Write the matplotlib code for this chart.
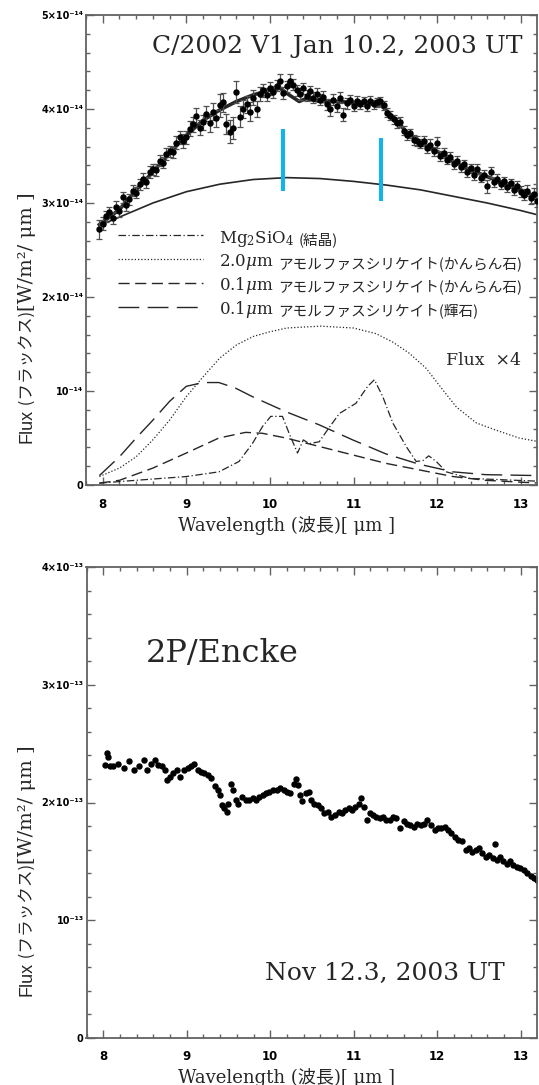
import matplotlib
matplotlib.use("Agg")
import matplotlib.pyplot as plt
from matplotlib.ticker import MultipleLocator

plt.rcParams["mathtext.fontset"] = "custom"
plt.rcParams["mathtext.rm"] = "DejaVu Serif"
plt.rcParams["mathtext.it"] = "DejaVu Serif:italic"

# ---------------------------------------------------------------- data --- #
# C/2002 V1, Jan 10.2 2003 UT (flux in units of 1e-14 W/m^2/um)
TOP_WL = [7.96, 8.00, 8.04, 8.08, 8.12, 8.16, 8.20, 8.24, 8.28, 8.32,
          8.36, 8.40, 8.44, 8.48, 8.52, 8.56, 8.60, 8.64, 8.68, 8.72,
          8.76, 8.80, 8.84, 8.88, 8.92, 8.96, 9.00, 9.04, 9.08, 9.12,
          9.16, 9.20, 9.24, 9.28, 9.32, 9.36, 9.40, 9.44, 9.48, 9.52,
          9.56, 9.60, 9.64, 9.68, 9.72, 9.76, 9.80, 9.84, 9.88, 9.92,
          9.96, 10.00, 10.04, 10.08, 10.12, 10.16, 10.20, 10.24, 10.28, 10.32,
          10.36, 10.40, 10.44, 10.48, 10.52, 10.56, 10.60, 10.64, 10.68, 10.72,
          10.76, 10.80, 10.84, 10.88, 10.92, 10.96, 11.00, 11.04, 11.08, 11.12,
          11.16, 11.20, 11.24, 11.28, 11.32, 11.36, 11.40, 11.44, 11.48, 11.52,
          11.56, 11.60, 11.64, 11.68, 11.72, 11.76, 11.80, 11.84, 11.88, 11.92,
          11.96, 12.00, 12.04, 12.08, 12.12, 12.16, 12.20, 12.24, 12.28, 12.32,
          12.36, 12.40, 12.44, 12.48, 12.52, 12.56, 12.60, 12.64, 12.68, 12.72,
          12.76, 12.80, 12.84, 12.88, 12.92, 12.96, 13.00, 13.04, 13.08, 13.12,
          13.16, 13.20]
TOP_FLUX = [2.72, 2.78, 2.86, 2.90, 2.84, 2.96, 2.91, 3.06, 2.98, 3.04,
            3.13, 3.11, 3.20, 3.26, 3.22, 3.33, 3.36, 3.35, 3.45, 3.43,
            3.52, 3.55, 3.54, 3.64, 3.70, 3.66, 3.70, 3.79, 3.84, 3.93,
            3.80, 3.86, 3.95, 3.85, 3.97, 3.90, 4.04, 4.07, 3.84, 3.76,
            3.80, 4.18, 3.92, 4.00, 4.05, 3.97, 4.12, 4.00, 4.16, 4.20,
            4.15, 4.22, 4.18, 4.25, 4.30, 4.17, 4.24, 4.30, 4.26, 4.20,
            4.16, 4.22, 4.14, 4.19, 4.12, 4.16, 4.10, 4.13, 4.05, 4.00,
            4.10, 4.03, 4.12, 3.94, 4.06, 4.10, 4.03, 4.09, 4.05, 4.08,
            4.03, 4.09, 4.05, 4.07, 4.08, 4.04, 3.96, 3.93, 3.89, 3.85,
            3.86, 3.77, 3.72, 3.74, 3.67, 3.66, 3.63, 3.66, 3.58, 3.62,
            3.55, 3.64, 3.50, 3.53, 3.46, 3.49, 3.41, 3.45, 3.38, 3.41,
            3.33, 3.37, 3.30, 3.36, 3.27, 3.30, 3.18, 3.33, 3.22, 3.26,
            3.20, 3.23, 3.17, 3.21, 3.14, 3.18, 3.12, 3.09, 3.13, 3.05,
            3.10, 3.02]
TOP_ERR = [0.10, 0.07, 0.06, 0.06, 0.06, 0.06, 0.06, 0.06, 0.06, 0.06,
           0.06, 0.06, 0.06, 0.06, 0.06, 0.06, 0.06, 0.06, 0.06, 0.06,
           0.06, 0.06, 0.06, 0.07, 0.07, 0.07, 0.07, 0.08, 0.08, 0.08,
           0.08, 0.08, 0.08, 0.09, 0.09, 0.09, 0.12, 0.10, 0.11, 0.12,
           0.12, 0.12, 0.11, 0.10, 0.09, 0.10, 0.08, 0.08, 0.07, 0.07,
           0.07, 0.07, 0.06, 0.06, 0.07, 0.06, 0.06, 0.07, 0.06, 0.06,
           0.06, 0.06, 0.06, 0.06, 0.06, 0.06, 0.06, 0.06, 0.06, 0.07,
           0.06, 0.06, 0.06, 0.07, 0.06, 0.05, 0.05, 0.05, 0.05, 0.05,
           0.05, 0.05, 0.05, 0.05, 0.05, 0.05, 0.05, 0.05, 0.05, 0.05,
           0.05, 0.05, 0.05, 0.05, 0.05, 0.05, 0.05, 0.05, 0.05, 0.06,
           0.05, 0.06, 0.05, 0.05, 0.05, 0.05, 0.05, 0.05, 0.05, 0.05,
           0.05, 0.05, 0.05, 0.05, 0.05, 0.05, 0.07, 0.05, 0.05, 0.05,
           0.05, 0.05, 0.05, 0.05, 0.05, 0.05, 0.06, 0.06, 0.06, 0.06,
           0.06, 0.06]

# total model fit
MODEL_WL = [7.96, 8.2, 8.4, 8.6, 8.8, 9.0, 9.2, 9.4, 9.6, 9.8, 10.0, 10.12,
            10.23, 10.35, 10.43, 10.6, 10.8, 11.0, 11.2, 11.31, 11.39, 11.47,
            11.63, 11.8, 12.0, 12.2, 12.4, 12.6, 12.8, 13.0, 13.22]
MODEL_FLUX = [2.77, 2.93, 3.14, 3.33, 3.53, 3.72, 3.88, 3.99, 4.08, 4.15, 4.20,
              4.22, 4.15, 4.08, 4.11, 4.08, 4.08, 4.07, 4.06, 4.05, 3.99, 3.92,
              3.76, 3.65, 3.55, 3.44, 3.35, 3.28, 3.21, 3.14, 3.05]

# thermal continuum
CONT_WL = [7.96, 8.2, 8.6, 9.0, 9.4, 9.8, 10.2, 10.6, 11.0, 11.4, 11.8,
           12.2, 12.6, 13.0, 13.22]
CONT_FLUX = [2.76, 2.85, 3.00, 3.12, 3.20, 3.25, 3.27, 3.26, 3.23, 3.19,
             3.14, 3.07, 3.00, 2.92, 2.87]

# crystalline olivine feature markers
BAND_WL = [10.16, 11.325]
BAND_LO = [3.13, 3.02]
BAND_HI = [3.79, 3.69]

# dust components (x4)
FO_WL = [7.96, 8.4, 9.0, 9.39, 9.63, 9.79, 9.91, 10.01, 10.15, 10.23, 10.33,
         10.40, 10.47, 10.59, 10.7, 10.83, 11.03, 11.17, 11.25, 11.35, 11.47,
         11.63, 11.75, 11.83, 11.90, 11.99, 12.11, 12.39, 13.22]
FO_FLUX = [0.02, 0.05, 0.09, 0.14, 0.25, 0.44, 0.62, 0.73, 0.73, 0.55, 0.34,
           0.48, 0.44, 0.46, 0.60, 0.76, 0.87, 1.05, 1.12, 0.94, 0.66, 0.41,
           0.25, 0.26, 0.31, 0.25, 0.14, 0.07, 0.04]
OL2_WL = [7.96, 8.2, 8.4, 8.6, 8.8, 9.0, 9.2, 9.4, 9.6, 9.8, 10.0, 10.2,
          10.6, 11.0, 11.27, 11.47, 11.67, 11.87, 12.07, 12.23, 12.47, 12.7,
          12.98, 13.22]
OL2_FLUX = [0.09, 0.18, 0.30, 0.48, 0.69, 0.94, 1.15, 1.35, 1.49, 1.58, 1.63,
            1.67, 1.69, 1.67, 1.61, 1.52, 1.40, 1.24, 1.01, 0.83, 0.66, 0.585,
            0.50, 0.46]
OL01_WL = [7.96, 8.2, 8.6, 9.0, 9.39, 9.71, 9.91, 10.19, 10.59, 10.99, 11.39,
           11.79, 12.19, 12.58, 13.22]
OL01_FLUX = [0.02, 0.05, 0.18, 0.34, 0.50, 0.56, 0.55, 0.50, 0.41, 0.32, 0.23,
             0.16, 0.09, 0.05, 0.02]
PX01_WL = [7.96, 8.2, 8.4, 8.6, 8.8, 9.0, 9.2, 9.39, 9.59, 9.79, 10.19, 10.59,
           10.99, 11.39, 11.79, 12.19, 12.58, 13.22]
PX01_FLUX = [0.10, 0.30, 0.50, 0.69, 0.89, 1.05, 1.09, 1.09, 1.03, 0.94, 0.78,
             0.64, 0.48, 0.33, 0.22, 0.14, 0.11, 0.10]

LEGEND_MAIN = [r"$\mathrm{Mg_2SiO_4}$", r"$\mathrm{2.0}\mathit{\mu}\mathrm{m}$",
               r"$\mathrm{0.1}\mathit{\mu}\mathrm{m}$",
               r"$\mathrm{0.1}\mathit{\mu}\mathrm{m}$"]
LEGEND_JP = ["(結晶)", "アモルファスシリケイト(かんらん石)",
             "アモルファスシリケイト(かんらん石)", "アモルファスシリケイト(輝石)"]

# 2P/Encke, Nov 12.3 2003 UT (flux in units of 1e-13 W/m^2/um)
ENCKE_WL = [8.02, 8.04, 8.06, 8.08, 8.12, 8.18, 8.25, 8.31, 8.37, 8.43,
            8.49, 8.53, 8.57, 8.62, 8.66, 8.70, 8.74, 8.76, 8.80, 8.84,
            8.88, 8.92, 8.97, 9.01, 9.05, 9.09, 9.13, 9.17, 9.21, 9.25,
            9.29, 9.34, 9.38, 9.40, 9.42, 9.45, 9.48, 9.50, 9.53, 9.56,
            9.59, 9.62, 9.66, 9.71, 9.75, 9.79, 9.83, 9.87, 9.91, 9.95,
            9.99, 10.03, 10.08, 10.12, 10.16, 10.20, 10.24, 10.28, 10.31, 10.33,
            10.36, 10.38, 10.43, 10.46, 10.49, 10.53, 10.57, 10.61, 10.65, 10.69,
            10.73, 10.77, 10.82, 10.86, 10.90, 10.94, 10.98, 11.02, 11.06, 11.09,
            11.12, 11.16, 11.19, 11.23, 11.27, 11.31, 11.35, 11.39, 11.43, 11.47,
            11.51, 11.56, 11.60, 11.64, 11.68, 11.72, 11.76, 11.80, 11.84, 11.88,
            11.93, 11.97, 12.01, 12.05, 12.09, 12.13, 12.17, 12.21, 12.25, 12.30,
            12.34, 12.38, 12.42, 12.46, 12.50, 12.54, 12.58, 12.62, 12.67, 12.69,
            12.71, 12.75, 12.79, 12.83, 12.87, 12.91, 12.95, 12.99, 13.04, 13.08,
            13.12, 13.16, 13.19]
ENCKE_FLUX = [2.32, 2.42, 2.39, 2.31, 2.31, 2.33, 2.29, 2.35, 2.28, 2.31,
              2.36, 2.28, 2.33, 2.36, 2.32, 2.31, 2.28, 2.19, 2.22, 2.25,
              2.28, 2.22, 2.28, 2.29, 2.31, 2.33, 2.28, 2.26, 2.25, 2.23,
              2.21, 2.14, 2.11, 2.06, 1.98, 1.95, 1.92, 1.99, 2.16, 2.11,
              2.02, 1.99, 2.05, 2.02, 2.02, 2.04, 2.02, 2.05, 2.06, 2.08,
              2.09, 2.11, 2.11, 2.12, 2.11, 2.09, 2.08, 2.16, 2.20, 2.15,
              2.06, 2.01, 2.08, 2.09, 2.02, 1.99, 1.98, 1.95, 1.91, 1.92,
              1.88, 1.89, 1.92, 1.91, 1.94, 1.95, 1.94, 1.96, 1.99, 2.04,
              1.96, 1.85, 1.91, 1.89, 1.88, 1.87, 1.88, 1.85, 1.85, 1.88,
              1.87, 1.78, 1.84, 1.82, 1.81, 1.79, 1.82, 1.81, 1.82, 1.85,
              1.81, 1.77, 1.78, 1.78, 1.79, 1.77, 1.74, 1.71, 1.68, 1.67,
              1.60, 1.61, 1.58, 1.60, 1.61, 1.57, 1.54, 1.55, 1.53, 1.65,
              1.51, 1.54, 1.50, 1.48, 1.50, 1.47, 1.45, 1.44, 1.43, 1.40,
              1.38, 1.36, 1.34]

WL_TICKS = [8, 9, 10, 11, 12, 13]
TOP_YTICKS = [0, 1, 2, 3, 4, 5]
TOP_YTICKLABELS = ["0", "10⁻¹⁴", "2×10⁻¹⁴", "3×10⁻¹⁴", "4×10⁻¹⁴", "5×10⁻¹⁴"]
BOT_YTICKS = [0, 1, 2, 3, 4]
BOT_YTICKLABELS = ["0", "10⁻¹³", "2×10⁻¹³", "3×10⁻¹³", "4×10⁻¹³"]

# --------------------------------------------------------------- style --- #
W, H = 539, 1085
INK = "#262626"
AXIS = "#626262"
BLUE = "#17b2ea"
SERIF_JP = ["DejaVu Serif", "Noto Sans CJK JP"]


def px_box(left, top, right, bottom):
    return [left / W, 1 - bottom / H, (right - left) / W, (bottom - top) / H]


def style_axes(ax, ylim, yticks, yticklabels):
    ax.set_xlim(7.8, 13.195)
    ax.set_ylim(*ylim)
    ax.set_xticks(WL_TICKS, [str(t) for t in WL_TICKS], fontsize=8.5,
                  fontweight="bold", family="DejaVu Sans")
    ax.set_yticks(yticks, yticklabels, fontsize=7, fontweight="bold",
                  family="DejaVu Sans")
    ax.xaxis.set_minor_locator(MultipleLocator(0.2))
    ax.yaxis.set_minor_locator(MultipleLocator(0.2))
    ax.tick_params(which="both", direction="in", top=True, right=True,
                   color=AXIS, width=1.0, labelcolor="black")
    ax.tick_params(which="major", length=6)
    ax.tick_params(which="minor", length=3)
    ax.tick_params(axis="x", pad=9)
    ax.tick_params(axis="y", pad=2)
    for s in ax.spines.values():
        s.set_color(AXIS)
        s.set_linewidth(1.3)


def flux_label(ax, x_px, bottom_px):
    t1 = fig.text(x_px / W, 1 - bottom_px / H, "Flux", rotation=90,
                  ha="center", va="bottom", family="Liberation Sans",
                  fontsize=13, color=INK)
    t2 = ax.annotate(" (フラックス)", xy=(0.5, 1), xycoords=t1, rotation=90,
                     ha="center", va="bottom", family="Noto Sans CJK JP",
                     fontsize=12, color=INK, annotation_clip=False)
    ax.annotate("[W/m²/ μm ]", xy=(0.5, 1), xycoords=t2, rotation=90,
                ha="center", va="bottom", family="DejaVu Serif",
                fontsize=14, color=INK, annotation_clip=False)


fig = plt.figure(figsize=(W / 100, H / 100), dpi=100)
ax1 = fig.add_axes(px_box(86, 15, 537, 485))
ax2 = fig.add_axes(px_box(86.5, 567, 537, 1038))

# ------------------------------------------------------------ top panel --- #
ax1.plot(MODEL_WL, MODEL_FLUX, color=INK, lw=2.6, zorder=2)
ax1.plot(CONT_WL, CONT_FLUX, color=INK, lw=1.2, zorder=2)
ax1.errorbar(TOP_WL, TOP_FLUX, yerr=TOP_ERR, fmt="o", ms=3.6, color="black",
             ecolor="#505050", elinewidth=0.9, capsize=2.2, capthick=0.9,
             zorder=3)
ax1.vlines(BAND_WL, BAND_LO, BAND_HI, colors=BLUE, lw=3, zorder=4)

l_fo, = ax1.plot(FO_WL, FO_FLUX, color=INK, lw=0.9, ls=(0, (6, 2, 1, 2)))
l_ol2, = ax1.plot(OL2_WL, OL2_FLUX, color=INK, lw=0.9, ls=(0, (1, 1.6)))
l_ol01, = ax1.plot(OL01_WL, OL01_FLUX, color=INK, lw=1.0, ls=(0, (8, 4)))
l_px01, = ax1.plot(PX01_WL, PX01_FLUX, color=INK, lw=1.0, ls=(0, (15, 6)))

leg = ax1.legend([l_fo, l_ol2, l_ol01, l_px01], LEGEND_MAIN, loc="upper left",
                 bbox_to_anchor=(0.072, 0.548), frameon=False, borderpad=0,
                 borderaxespad=0, handlelength=5.05, handleheight=1.4,
                 handletextpad=1.0, labelspacing=0.16, fontsize=12)
for t in leg.get_texts():
    t.set_color(INK)
for t, jp in zip(leg.get_texts(), LEGEND_JP):
    ax1.annotate(jp, xy=(1, 0.45), xycoords=t, xytext=(3, 0),
                 textcoords="offset points", ha="left", va="center",
                 family="Noto Sans CJK JP", fontsize=10.5, color=INK,
                 zorder=6)

ax1.text(13.02, 4.60, "C/2002 V1 Jan 10.2, 2003 UT", ha="right",
         va="baseline", family="DejaVu Serif", fontsize=18, color=INK)
ax1.text(13.0, 1.28, "Flux  ×4", ha="right", va="baseline",
         family="DejaVu Serif", fontsize=12.5, color=INK)
style_axes(ax1, (0, 5), TOP_YTICKS, TOP_YTICKLABELS)

# --------------------------------------------------------- bottom panel --- #
ax2.plot(ENCKE_WL, ENCKE_FLUX, "o", ms=3.6, color="black")
ax2.text(8.51, 3.19, "2P/Encke", ha="left", va="baseline",
         family="DejaVu Serif", fontsize=23, color=INK)
ax2.text(12.81, 0.49, "Nov 12.3, 2003 UT", ha="right", va="baseline",
         family="DejaVu Serif", fontsize=18, color=INK)
style_axes(ax2, (0, 4), BOT_YTICKS, BOT_YTICKLABELS)

# -------------------------------------------------------------- labels --- #
for y_px in (531, 1083):
    fig.text(286 / W, 1 - y_px / H, "Wavelength (波長)[ μm ]", ha="center",
             va="baseline", family=SERIF_JP, fontsize=13, color=INK)
flux_label(ax1, 27, 443)
flux_label(ax2, 27, 996)

fig.savefig("out.png", dpi=100)
